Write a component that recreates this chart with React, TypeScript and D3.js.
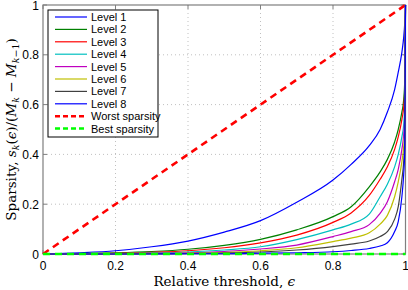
import React from "react";
import * as d3 from "d3";

// relative threshold samples
const eps = [0, 0.1, 0.2, 0.3, 0.4, 0.5, 0.6, 0.7, 0.8, 0.85, 0.9, 0.93, 0.95, 0.97, 0.98, 0.99, 0.995, 0.998, 1];

const level1 = [0, 0.005, 0.013, 0.029, 0.052, 0.088, 0.134, 0.208, 0.297, 0.36, 0.435, 0.5, 0.57, 0.66, 0.73, 0.81, 0.87, 0.93, 1];
const level2 = [0, 0.002, 0.005, 0.01, 0.019, 0.035, 0.059, 0.097, 0.15, 0.19, 0.27, 0.33, 0.38, 0.45, 0.5, 0.57, 0.62, 0.7, 1];
const level3 = [0, 0.001, 0.003, 0.007, 0.013, 0.025, 0.045, 0.076, 0.127, 0.165, 0.235, 0.3, 0.35, 0.42, 0.47, 0.54, 0.59, 0.66, 1];
const level4 = [0, 0.001, 0.002, 0.004, 0.008, 0.016, 0.029, 0.058, 0.097, 0.12, 0.16, 0.23, 0.28, 0.35, 0.4, 0.47, 0.52, 0.6, 1];
const level5 = [0, 0, 0.001, 0.003, 0.005, 0.01, 0.02, 0.036, 0.07, 0.09, 0.118, 0.163, 0.21, 0.29, 0.34, 0.42, 0.48, 0.56, 1];
const level6 = [0, 0, 0.001, 0.002, 0.003, 0.006, 0.013, 0.025, 0.05, 0.064, 0.085, 0.12, 0.155, 0.23, 0.29, 0.37, 0.43, 0.5, 1];
const level7 = [0, 0, 0, 0.001, 0.002, 0.004, 0.008, 0.016, 0.03, 0.04, 0.052, 0.07, 0.09, 0.14, 0.19, 0.3, 0.37, 0.46, 1];
const level8 = [0, 0, 0, 0, 0.001, 0.001, 0.003, 0.005, 0.009, 0.014, 0.022, 0.032, 0.045, 0.09, 0.13, 0.23, 0.32, 0.42, 1];

const worstEps = [0, 1];
const worst = [0, 1];
const best = [0, 0];

const levelNames = ["Level 1", "Level 2", "Level 3", "Level 4", "Level 5", "Level 6", "Level 7", "Level 8"];
const levelColors = ["#0000ff", "#008000", "#ff0000", "#00bfbf", "#bf00bf", "#bfbf00", "#404040", "#0000ff"];
const ticks = [0, 0.2, 0.4, 0.6, 0.8, 1];

const W = 408, H = 290;
const margin = { top: 5, right: 2.5, bottom: 36, left: 43 };

export default function App() {
  const x = d3.scaleLinear().domain([0, 1]).range([margin.left, W - margin.right]);
  const y = d3.scaleLinear().domain([0, 1]).range([H - margin.bottom, margin.top]);
  const levels = [level1, level2, level3, level4, level5, level6, level7, level8];

  const line = d3.line<[number, number]>()
    .x(d => x(d[0]))
    .y(d => y(d[1]))
    .curve(d3.curveMonotoneX);
  const straight = d3.line<[number, number]>().x(d => x(d[0])).y(d => y(d[1]));

  const x0 = x(0), x1 = x(1), y0 = y(0), y1 = y(1);
  const axisColor = "#7f7f7f";

  // legend layout
  const lg = { x: 48, y: 10, w: 110, h: 127, row: 12.4 };
  const legendItems = [
    ...levelNames.map((n, i) => ({ name: n, color: levelColors[i], dash: "none", width: 1.2 })),
    { name: "Worst sparsity", color: "#ff0000", dash: "5,3", width: 2.5 },
    { name: "Best sparsity", color: "#00ff00", dash: "5,3", width: 2.5 },
  ];

  return (
    <div style={{ position: "absolute", left: 0, top: 0 }}>
      <svg width={W} height={H} style={{ display: "block", background: "#fff" }}>
        {/* grid */}
        <g stroke="#b0b0b0" strokeWidth={0.8} strokeDasharray="1,3">
          {ticks.slice(1, -1).map(t => (
            <line key={"gx" + t} x1={x(t)} x2={x(t)} y1={y0} y2={y1} />
          ))}
          {ticks.slice(1, -1).map(t => (
            <line key={"gy" + t} x1={x0} x2={x1} y1={y(t)} y2={y(t)} />
          ))}
        </g>

        {/* axis box and ticks */}
        <rect x={x0} y={y1} width={x1 - x0} height={y0 - y1} fill="none" stroke={axisColor} strokeWidth={1.2} />
        <g stroke={axisColor} strokeWidth={1}>
          {ticks.map(t => (
            <g key={"t" + t}>
              <line x1={x(t)} x2={x(t)} y1={y0} y2={y0 - 4} />
              <line x1={x(t)} x2={x(t)} y1={y1} y2={y1 + 4} />
              <line x1={x0} x2={x0 + 4} y1={y(t)} y2={y(t)} />
              <line x1={x1} x2={x1 - 4} y1={y(t)} y2={y(t)} />
            </g>
          ))}
        </g>

        {/* worst sparsity */}
        <path d={straight(worstEps.map((e, i) => [e, worst[i]]) as [number, number][]) || ""}
          fill="none" stroke="#ff0000" strokeWidth={2.6} strokeDasharray="7,5" />

        {/* levels */}
        {levels.map((lv, k) => (
          <path key={"lv" + k} d={line(eps.map((e, i) => [e, lv[i]]) as [number, number][]) || ""}
            fill="none" stroke={levelColors[k]} strokeWidth={1.2} />
        ))}

        {/* best sparsity */}
        <path d={straight(worstEps.map((e, i) => [e, best[i]]) as [number, number][]) || ""}
          fill="none" stroke="#00ff00" strokeWidth={2.6} strokeDasharray="7,5" />

        {/* tick labels */}
        <g fontFamily="Liberation Sans, Arial, sans-serif" fontSize={12} fill="#000">
          {ticks.map(t => (
            <text key={"xl" + t} x={x(t)} y={y0 + 15.5} textAnchor="middle">{d3.format("")(t)}</text>
          ))}
          {ticks.map(t => (
            <text key={"yl" + t} x={x0 - 4} y={y(t) + 4.5} textAnchor="end">{d3.format("")(t)}</text>
          ))}
        </g>

        {/* axis titles */}
        <text x={(x0 + x1) / 2} y={285.5} textAnchor="middle" fontFamily="DejaVu Serif, Liberation Serif, serif" fontSize={13.5}>
          Relative threshold, <tspan fontStyle="italic">ϵ</tspan>
        </text>
        <text transform={`translate(16,${(y0 + y1) / 2}) rotate(-90)`} textAnchor="middle"
          fontFamily="DejaVu Serif, Liberation Serif, serif" fontSize={13.5}>
          Sparsity, <tspan fontStyle="italic">s</tspan><tspan fontStyle="italic" fontSize={9.5} dy={3}>k</tspan>
          <tspan dy={-3}>(</tspan><tspan fontStyle="italic">ϵ</tspan>)/(<tspan fontStyle="italic">M</tspan>
          <tspan fontStyle="italic" fontSize={9.5} dy={3}>k</tspan><tspan dy={-3}> − </tspan>
          <tspan fontStyle="italic">M</tspan><tspan fontStyle="italic" fontSize={9.5} dy={3}>k</tspan>
          <tspan fontSize={9.5}>−1</tspan><tspan dy={-3}>)</tspan>
        </text>

        {/* legend */}
        <g>
          <rect x={lg.x} y={lg.y} width={lg.w} height={lg.h} fill="#fff" stroke="#000" strokeWidth={1} />
          {legendItems.map((it, i) => {
            const ry = lg.y + 7 + i * lg.row;
            return (
              <g key={"lg" + i}>
                <line x1={55} x2={87} y1={ry} y2={ry} stroke={it.color} strokeWidth={it.width}
                  strokeDasharray={it.dash} />
                <text x={91} y={ry + 4} fontFamily="Liberation Sans, Arial, sans-serif" fontSize={11}>{it.name}</text>
              </g>
            );
          })}
        </g>
      </svg>
    </div>
  );
}
